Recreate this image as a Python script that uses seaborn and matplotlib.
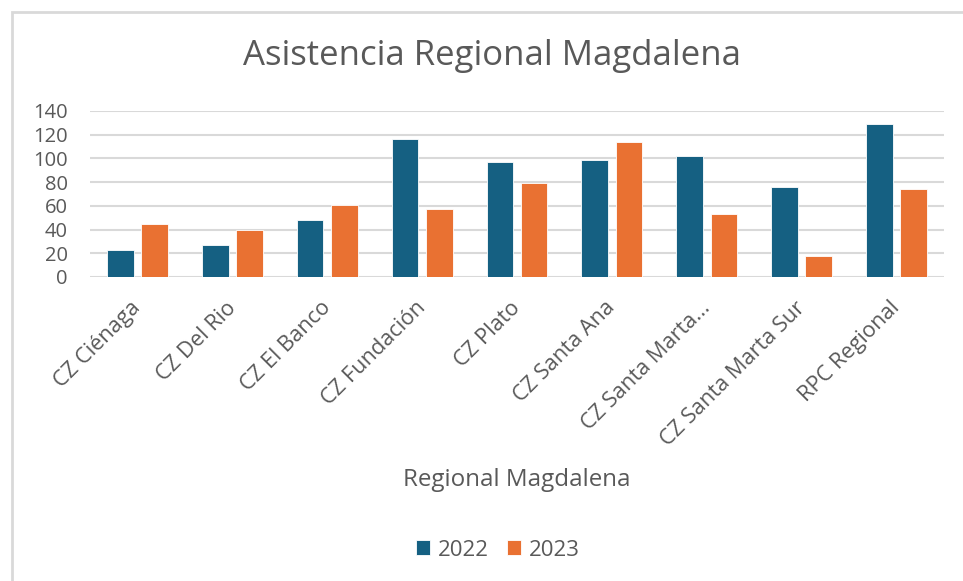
import matplotlib
matplotlib.use('Agg')
import matplotlib.pyplot as plt
import matplotlib.transforms as mtransforms
import seaborn as sns
import pandas as pd
from matplotlib.patches import Rectangle

# Chart data
categories = ['CZ Ciénaga', 'CZ Del Rio', 'CZ El Banco', 'CZ Fundación', 'CZ Plato',
              'CZ Santa Ana', 'CZ Santa Marta...', 'CZ Santa Marta Sur', 'RPC Regional']
values_2022 = [23, 27, 48, 116, 97, 99, 102, 76, 129]
values_2023 = [45, 40, 61, 57, 79, 114, 53, 18, 74]
years = ['2022', '2023']
y_ticks = [0, 20, 40, 60, 80, 100, 120, 140]

df = pd.DataFrame({
    'Regional': categories * 2,
    'Asistencia': values_2022 + values_2023,
    'Año': [years[0]] * len(categories) + [years[1]] * len(categories),
})

sns.set_style('white')
plt.rcParams['font.family'] = ['Open Sans', 'DejaVu Sans']
text_gray = '#595959'

fig = plt.figure(figsize=(9.63, 5.81), dpi=100)

# chart frame
fig.patches.append(Rectangle((12 / 963, -0.1), 1.2, 1 - 12 / 581 + 0.1,
                             transform=fig.transFigure, fill=False,
                             edgecolor='#d9d9d9', linewidth=2, zorder=0))

ax = fig.add_axes([90 / 963, 1 - 277 / 581, (944 - 90) / 963, (277 - 111) / 581])
sns.barplot(data=df, x='Regional', y='Asistencia', hue='Año',
            palette=['#156082', '#E97132'], saturation=1, width=0.72, gap=0.22,
            edgecolor='white', linewidth=0.6, ax=ax, legend=True)

ax.set_ylim(0, 140)
ax.set_yticks(y_ticks)
ax.set_xlim(-0.5, len(categories) - 0.5)
ax.yaxis.grid(True, color='#d9d9d9', linewidth=1.5)
ax.set_axisbelow(True)
for s in ax.spines.values():
    s.set_visible(False)
ax.tick_params(axis='y', length=0, pad=16, labelsize=14.5, labelcolor=text_gray)
ax.tick_params(axis='x', length=0, pad=6, labelsize=15.7, labelcolor=text_gray)
shift = mtransforms.ScaledTranslation(-7 / 100, -12 / 100, fig.dpi_scale_trans)
for lbl in ax.get_xticklabels():
    lbl.set_rotation(45)
    lbl.set_ha('right')
    lbl.set_va('top')
    lbl.set_rotation_mode('anchor')
    lbl.set_transform(lbl.get_transform() + shift)
ax.set_ylabel('')
ax.set_xlabel('')

fig.text(492 / 963, 1 - 56 / 581, 'Asistencia Regional Magdalena', ha='center', va='center',
         fontsize=25, color=text_gray)
fig.text(517 / 963, 1 - 480 / 581, 'Regional Magdalena', ha='center', va='center',
         fontsize=17.4, color=text_gray)

handles, labels = ax.get_legend_handles_labels()
ax.legend_.remove()
fig.legend(handles, labels, loc='center', bbox_to_anchor=(498 / 963, 1 - 550 / 581),
           ncol=2, frameon=False, fontsize=16, labelcolor=text_gray,
           handlelength=0.65, handleheight=0.65, handletextpad=0.35, columnspacing=0.8)

fig.savefig('out.png', dpi=100, facecolor='white')
